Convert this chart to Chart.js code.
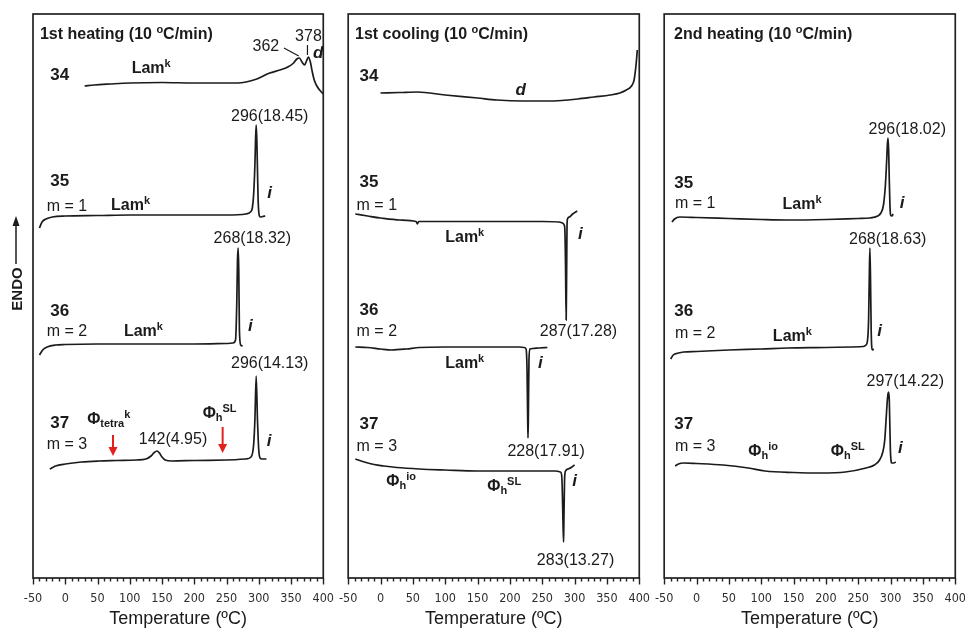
<!DOCTYPE html>
<html>
<head>
<meta charset="utf-8">
<script src="https://cdn.jsdelivr.net/npm/chart.js@4.4.1/dist/chart.umd.min.js"></script>
<style>
  html, body { margin: 0; padding: 0; background: #fff; overflow: hidden; }
  body { width: 965px; height: 630px; position: relative; }
  canvas { position: absolute; top: 0; }
</style>
</head>
<body>
<canvas id="heat1" style="left:0px" width="347" height="630"></canvas>
<canvas id="cool1" style="left:326px" width="337" height="630"></canvas>
<canvas id="heat2" style="left:642px" width="337" height="630"></canvas>
<script>
// temperature axis (degC)
const tempMin = -50;
const tempMax = 400;
const tempTicks = [-50, 0, 50, 100, 150, 200, 250, 300, 350, 400];

// 1st heating traces: temperature / stacked heat flow (a.u., endo up)
const h1Temp34 = [30, 45, 70, 100, 150, 200, 240, 267, 297, 317, 333, 345, 354, 359, 363, 367, 371, 374, 377, 380, 383, 386, 390, 397, 400];
const h1Flow34 = [492, 493, 494, 495, 495.5, 495, 495, 495, 499, 505, 508, 511, 515, 519, 520, 516, 513, 517, 521, 516, 506, 498, 492, 486, 484];
const h1Temp35 = [-40, -36, -30, -20, 0, 50, 100, 150, 200, 250, 280, 287, 290, 292, 294, 295, 296, 297, 298, 299, 300, 301, 303, 306, 310];
const h1Flow35 = [350, 356, 359, 361, 362, 362.5, 363, 363, 363, 363, 364, 366, 370, 383, 413, 438, 453, 438, 408, 378, 366, 362, 361, 361.5, 362];
const h1Temp36 = [-40, -35, -28, -15, 0, 50, 100, 150, 200, 250, 260, 264, 266, 267, 268, 269, 270, 272, 275];
const h1Flow36 = [223, 228, 231, 233, 233.5, 234, 234, 234, 234, 234.5, 235, 238, 278, 318, 330, 308, 248, 233, 232];
const h1Temp37 = [-24, -15, 0, 25, 52, 80, 110, 125, 133, 138, 142, 146, 150, 155, 165, 200, 250, 280, 288, 292, 294, 296, 298, 300, 302, 305, 312];
const h1Flow37 = [109, 112, 114, 116, 117, 117.5, 118, 119, 122, 125.5, 127, 125, 121, 118, 117, 117.5, 118, 119, 121, 133, 158, 202, 158, 128, 120, 119, 119];

// 1st cooling traces
const c1Temp34 = [0, 30, 57, 100, 150, 180, 220, 255, 280, 305, 330, 355, 370, 380, 388, 392, 395, 397];
const c1Flow34 = [485, 485.5, 486, 483, 480, 478, 477, 477, 477.5, 479, 481, 483, 485, 488, 492, 498, 513, 528];
const c1Temp35 = [-39, -20, 0, 30, 55, 57, 59, 100, 150, 200, 250, 275, 281, 284, 285, 286, 287, 287.8, 288.3, 289, 292, 297, 304];
const c1Flow35 = [364, 362, 360, 358, 356.5, 354, 356.5, 356.5, 356.5, 356.5, 356.5, 356, 355, 353, 348, 313, 258, 313, 352, 359, 361, 364, 367];
const c1Temp36 = [-39, -20, 0, 17, 40, 60, 100, 150, 200, 215, 222, 225, 226.5, 227.5, 228, 228.5, 229.5, 231, 235, 245, 258];
const c1Flow36 = [231, 230.5, 229, 228, 229, 230.5, 231, 231, 231, 231, 230.5, 229, 208, 158, 140, 158, 218, 229, 229.5, 230, 230.5];
const c1Temp37 = [-39, -25, -10, 5, 25, 60, 100, 150, 200, 250, 270, 278, 280, 281, 282, 283, 283.5, 284.5, 286, 290, 296, 300];
const c1Flow37 = [119, 116, 113.5, 112, 110.5, 109, 108, 107, 107, 107, 107, 106, 103, 88, 58, 36, 58, 98, 107, 109, 111, 113];

// 2nd heating traces
const h2Temp35 = [-38, -34, -26, 0, 50, 100, 141, 200, 250, 268, 280, 285, 289, 292, 294, 295, 296, 297, 298, 299, 300, 302, 304];
const h2Flow35 = [356, 359, 361, 360.5, 359.5, 358.5, 358, 358.5, 359.5, 360, 362, 365, 373, 393, 418, 433, 440, 428, 398, 373, 363, 362, 364];
const h2Temp36 = [-40, -36, -28, -20, 0, 50, 100, 141, 200, 240, 258, 262, 264, 266, 267, 268, 269, 270, 271, 272, 274];
const h2Flow36 = [219, 223, 225, 226, 226.5, 228, 229, 230, 230.5, 231, 231.5, 233, 236, 258, 298, 330, 298, 248, 230, 228, 229];
const h2Temp37 = [-33, -28, -20, 0, 41, 80, 106, 150, 192, 230, 262, 275, 283, 288, 291, 293, 295, 296, 297, 298, 299, 300, 302, 305, 308];
const h2Flow37 = [112, 114, 115, 114.5, 113, 110, 107, 105.5, 105, 106, 110, 113, 118, 126, 138, 158, 178, 184, 186, 178, 148, 123, 115, 115, 116];

// text placed on each panel, in (temperature, flow) units
const h1Notes = [
  { x: -39.3, y: 545, text: '1st heating (10 ^{o}C/min)', kind: 'title', align: 'left' },
  { x: -8.7, y: 504, text: '34', kind: 'id' },
  { x: 103, y: 511, text: 'Lam^{k}', kind: 'phase', align: 'left' },
  { x: 311, y: 533, text: '362', kind: 'peak' },
  { x: 377, y: 543, text: '378', kind: 'peak' },
  { x: 392, y: 526, text: 'd', kind: 'tag' },
  { x: 317, y: 463, text: '296(18.45)', kind: 'peak' },
  { x: -8.7, y: 398, text: '35', kind: 'id' },
  { x: -28.6, y: 373, text: 'm = 1', kind: 'm', align: 'left' },
  { x: 71, y: 374, text: 'Lam^{k}', kind: 'phase', align: 'left' },
  { x: 317, y: 386, text: 'i', kind: 'tag' },
  { x: 290, y: 341, text: '268(18.32)', kind: 'peak' },
  { x: -8.7, y: 268, text: '36', kind: 'id' },
  { x: -28.6, y: 248, text: 'm = 2', kind: 'm', align: 'left' },
  { x: 91, y: 248, text: 'Lam^{k}', kind: 'phase', align: 'left' },
  { x: 287, y: 253, text: 'i', kind: 'tag' },
  { x: 317, y: 216, text: '296(14.13)', kind: 'peak' },
  { x: -8.7, y: 156, text: '37', kind: 'id' },
  { x: -28.6, y: 135, text: 'm = 3', kind: 'm', align: 'left' },
  { x: 34, y: 160, text: 'Φ_{tetra}^{k}', kind: 'phase', align: 'left' },
  { x: 167, y: 140, text: '142(4.95)', kind: 'peak' },
  { x: 213, y: 166, text: 'Φ_{h}^{SL}', kind: 'phase', align: 'left' },
  { x: 316, y: 138, text: 'i', kind: 'tag' }
];
const c1Notes = [
  { x: -39.4, y: 545, text: '1st cooling (10 ^{o}C/min)', kind: 'title', align: 'left' },
  { x: -18, y: 503, text: '34', kind: 'id' },
  { x: 216.7, y: 489, text: 'd', kind: 'tag' },
  { x: -18, y: 397, text: '35', kind: 'id' },
  { x: -37, y: 374, text: 'm = 1', kind: 'm', align: 'left' },
  { x: 100, y: 342, text: 'Lam^{k}', kind: 'phase', align: 'left' },
  { x: 309, y: 345, text: 'i', kind: 'tag' },
  { x: 306, y: 248, text: '287(17.28)', kind: 'peak' },
  { x: -18, y: 269, text: '36', kind: 'id' },
  { x: -37, y: 248, text: 'm = 2', kind: 'm', align: 'left' },
  { x: 100, y: 216, text: 'Lam^{k}', kind: 'phase', align: 'left' },
  { x: 247, y: 216, text: 'i', kind: 'tag' },
  { x: 256, y: 128, text: '228(17.91)', kind: 'peak' },
  { x: -18, y: 155, text: '37', kind: 'id' },
  { x: -37, y: 133, text: 'm = 3', kind: 'm', align: 'left' },
  { x: 9, y: 98, text: 'Φ_{h}^{io}', kind: 'phase', align: 'left' },
  { x: 165, y: 93, text: 'Φ_{h}^{SL}', kind: 'phase', align: 'left' },
  { x: 300, y: 98, text: 'i', kind: 'tag' },
  { x: 301.5, y: 19, text: '283(13.27)', kind: 'peak' }
];
const h2Notes = [
  { x: -34.8, y: 545, text: '2nd heating (10 ^{o}C/min)', kind: 'title', align: 'left' },
  { x: 325.8, y: 450, text: '296(18.02)', kind: 'peak' },
  { x: -19.7, y: 396, text: '35', kind: 'id' },
  { x: -33.3, y: 376, text: 'm = 1', kind: 'm', align: 'left' },
  { x: 133, y: 375, text: 'Lam^{k}', kind: 'phase', align: 'left' },
  { x: 318, y: 376, text: 'i', kind: 'tag' },
  { x: 295.5, y: 340, text: '268(18.63)', kind: 'peak' },
  { x: -19.7, y: 268, text: '36', kind: 'id' },
  { x: -33.3, y: 246, text: 'm = 2', kind: 'm', align: 'left' },
  { x: 118, y: 243, text: 'Lam^{k}', kind: 'phase', align: 'left' },
  { x: 283, y: 248, text: 'i', kind: 'tag' },
  { x: 322.7, y: 198, text: '297(14.22)', kind: 'peak' },
  { x: -19.7, y: 155, text: '37', kind: 'id' },
  { x: -33.3, y: 133, text: 'm = 3', kind: 'm', align: 'left' },
  { x: 80, y: 128, text: 'Φ_{h}^{io}', kind: 'phase', align: 'left' },
  { x: 207.6, y: 128, text: 'Φ_{h}^{SL}', kind: 'phase', align: 'left' },
  { x: 315, y: 131, text: 'i', kind: 'tag' }
];

// leader lines for the 362 / 378 peaks and the red phase markers (1st heating only)
const h1Leaders = [[339, 530, 362, 522], [375.5, 533, 375.5, 523]];
const h1Markers = [[74, 143, 122], [244, 151, 125]];

const FONT = "'Liberation Sans', Arial, Helvetica, sans-serif";
const INK = '#1b1b1b';
const noteStyles = {
  title: { size: 16, weight: 'bold', style: 'normal' },
  id:    { size: 17, weight: 'bold', style: 'normal' },
  m:     { size: 16, weight: 'normal', style: 'normal' },
  peak:  { size: 16, weight: 'normal', style: 'normal' },
  phase: { size: 16, weight: 'bold', style: 'normal' },
  tag:   { size: 17, weight: 'bold', style: 'italic' }
};

function parseRich(text) {
  const segs = [];
  const re = /([_^])\{([^}]*)\}|([^_^]+)/g;
  let m;
  while ((m = re.exec(text)) !== null) {
    if (m[3] !== undefined) segs.push({ t: m[3], mode: '' });
    else segs.push({ t: m[2], mode: m[1] === '_' ? 'sub' : 'sup' });
  }
  return segs;
}

function drawRich(ctx, x, y, text, kind, align) {
  const st = noteStyles[kind];
  const small = Math.round(st.size * 0.68);
  const segs = parseRich(text);
  let total = 0;
  segs.forEach(s => {
    s.size = s.mode ? small : st.size;
    ctx.font = `${st.style} ${st.weight} ${s.size}px ${FONT}`;
    s.w = ctx.measureText(s.t).width;
    total += s.w;
  });
  let cx = align === 'left' ? x : x - total / 2;
  const base = y + st.size * 0.36;
  ctx.fillStyle = INK;
  ctx.textBaseline = 'alphabetic';
  ctx.textAlign = 'left';
  segs.forEach(s => {
    ctx.font = `${st.style} ${st.weight} ${s.size}px ${FONT}`;
    let by = base;
    if (s.mode === 'sup') by = base - st.size * 0.38;
    if (s.mode === 'sub') by = base + st.size * 0.22;
    ctx.fillText(s.t, cx, by);
    cx += s.w;
  });
}

function makeDecor(notes, leaders, markers, withEndo) {
  return {
    id: 'dscDecor',
    afterDraw(chart) {
      const { ctx, chartArea: a, scales: { x, y } } = chart;
      ctx.save();
      // frame
      ctx.strokeStyle = '#222';
      ctx.lineWidth = 1.7;
      ctx.strokeRect(a.left, a.top, a.right - a.left, a.bottom - a.top);
      // major / minor ticks below the frame
      ctx.lineWidth = 1.4;
      for (let t = tempMin; t <= tempMax; t += 10) {
        const px = Math.round(x.getPixelForValue(t)) + 0.5;
        const len = t % 50 === 0 ? 6.5 : 3.5;
        ctx.beginPath();
        ctx.moveTo(px, a.bottom);
        ctx.lineTo(px, a.bottom + len);
        ctx.stroke();
      }
      // leader lines
      ctx.strokeStyle = INK;
      ctx.lineWidth = 1.2;
      leaders.forEach(([x0, y0, x1, y1]) => {
        ctx.beginPath();
        ctx.moveTo(x.getPixelForValue(x0), y.getPixelForValue(y0));
        ctx.lineTo(x.getPixelForValue(x1), y.getPixelForValue(y1));
        ctx.stroke();
      });
      // red arrows
      markers.forEach(([t, y0, y1]) => {
        const px = x.getPixelForValue(t);
        const top = y.getPixelForValue(y0);
        const tip = y.getPixelForValue(y1);
        ctx.strokeStyle = '#e3211c';
        ctx.fillStyle = '#e3211c';
        ctx.lineWidth = 2;
        ctx.beginPath();
        ctx.moveTo(px, top);
        ctx.lineTo(px, tip - 7);
        ctx.stroke();
        ctx.beginPath();
        ctx.moveTo(px - 4.5, tip - 9);
        ctx.lineTo(px + 4.5, tip - 9);
        ctx.lineTo(px, tip);
        ctx.closePath();
        ctx.fill();
      });
      notes.forEach(n => drawRich(ctx, x.getPixelForValue(n.x), y.getPixelForValue(n.y), n.text, n.kind, n.align));
      if (withEndo) {
        // vertical ENDO label with upward arrow
        ctx.fillStyle = INK;
        ctx.strokeStyle = INK;
        ctx.save();
        ctx.translate(a.left - 15, 289);
        ctx.rotate(-Math.PI / 2);
        ctx.font = `bold 15px ${FONT}`;
        ctx.textAlign = 'center';
        ctx.textBaseline = 'middle';
        ctx.fillText('ENDO', 0, 0);
        ctx.restore();
        const ax = a.left - 17;
        ctx.lineWidth = 1.5;
        ctx.beginPath();
        ctx.moveTo(ax, 264);
        ctx.lineTo(ax, 224);
        ctx.stroke();
        ctx.beginPath();
        ctx.moveTo(ax - 3.5, 226);
        ctx.lineTo(ax + 3.5, 226);
        ctx.lineTo(ax, 216);
        ctx.closePath();
        ctx.fill();
      }
      ctx.restore();
    }
  };
}

function trace(temps, flows) {
  return {
    data: temps.map((t, i) => ({ x: t, y: flows[i] })),
    borderColor: INK,
    borderWidth: 1.7,
    pointRadius: 0,
    fill: false,
    cubicInterpolationMode: 'monotone'
  };
}

function buildPanel(id, sets, notes, leaders, markers, withEndo, padLeft) {
  return new Chart(document.getElementById(id), {
    type: 'line',
    data: { datasets: sets },
    options: {
      responsive: false,
      animation: false,
      events: [],
      layout: { padding: { left: padLeft, right: 20, top: 14, bottom: 0 } },
      plugins: { legend: { display: false }, tooltip: { enabled: false } },
      scales: {
        x: {
          type: 'linear',
          min: tempMin,
          max: tempMax,
          afterBuildTicks: (scale) => { scale.ticks = tempTicks.map(v => ({ value: v })); },
          afterFit: (scale) => { scale.height = 52; },
          grid: { display: false, drawTicks: false },
          border: { display: false },
          ticks: {
            padding: 13,
            maxRotation: 0,
            autoSkip: false,
            color: '#2e2e2e',
            font: { family: "'Liberation Sans Narrow', 'DejaVu Sans Condensed', " + FONT, size: 12.5 }
          },
          title: {
            display: true,
            text: 'Temperature (ºC)',
            color: INK,
            padding: { top: 0, bottom: 0 },
            font: { family: FONT, size: 18 }
          }
        },
        y: { display: false, min: 0, max: 564 }
      }
    },
    plugins: [makeDecor(notes, leaders, markers, withEndo)]
  });
}

buildPanel('heat1', [
  trace(h1Temp34, h1Flow34), trace(h1Temp35, h1Flow35),
  trace(h1Temp36, h1Flow36), trace(h1Temp37, h1Flow37)
], h1Notes, h1Leaders, h1Markers, true, 33);

buildPanel('cool1', [
  trace(c1Temp34, c1Flow34), trace(c1Temp35, c1Flow35),
  trace(c1Temp36, c1Flow36), trace(c1Temp37, c1Flow37)
], c1Notes, [], [], false, 20);

buildPanel('heat2', [
  trace(h2Temp35, h2Flow35), trace(h2Temp36, h2Flow36), trace(h2Temp37, h2Flow37)
], h2Notes, [], [], false, 20);
</script>
</body>
</html>
